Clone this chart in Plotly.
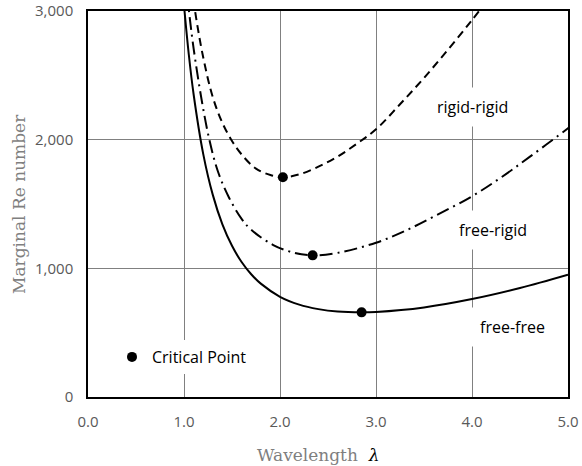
import plotly.graph_objects as go

# Marginal stability curves: wavelength vs. marginal Re number
lam_ff = [0.98, 1.0, 1.05, 1.1, 1.2, 1.3, 1.4, 1.5, 1.6, 1.7, 1.8, 2.0, 2.2, 2.4, 2.6, 2.85, 3.0, 3.5, 4.0, 4.5, 5.0]
re_ff = [3222, 3044, 2662, 2353, 1890, 1571, 1342, 1175, 1049, 954, 881, 779, 718, 683, 664, 658, 661, 696, 761, 847, 950]

lam_fr = [1.0, 1.05, 1.1, 1.184, 1.264, 1.35, 1.462, 1.6, 1.7, 1.93, 2.15, 2.34, 2.6, 3.0, 3.3, 3.632, 4.0, 4.3, 4.604, 5.0, 5.1]
re_fr = [3340, 3010, 2710, 2308, 2000, 1760, 1560, 1385, 1300, 1181, 1120, 1101, 1120, 1199, 1290, 1414, 1560, 1705, 1868, 2088, 2145]

lam_rr = [1.08, 1.115, 1.2, 1.3, 1.4, 1.5, 1.6, 1.75, 1.9, 2.03, 2.2, 2.4, 2.6, 2.8, 3.0, 3.25, 3.5, 3.75, 4.0, 4.2]
re_rr = [3190, 3000, 2640, 2330, 2130, 1990, 1885, 1775, 1725, 1708, 1730, 1790, 1868, 1968, 2080, 2275, 2480, 2700, 2930, 3120]

# Critical points (minimum of each curve)
crit_lam = [2.03, 2.34, 2.85]
crit_re = [1708, 1101, 658]

curve_labels = ["rigid-rigid", "free-rigid", "free-free"]
label_lam = [4.0, 4.22, 4.42]
label_re = [2254, 1298, 546]

x_ticks = [0, 1, 2, 3, 4, 5]
y_ticks = [0, 1000, 2000, 3000]

fig = go.Figure()
fig.add_trace(go.Scatter(x=lam_ff, y=re_ff, mode="lines", line=dict(color="black", width=2, shape="spline"),
                         showlegend=False, hoverinfo="skip"))
fig.add_trace(go.Scatter(x=lam_fr, y=re_fr, mode="lines",
                         line=dict(color="black", width=2, shape="spline", dash="13px,5px,2px,5px"),
                         showlegend=False, hoverinfo="skip"))
fig.add_trace(go.Scatter(x=lam_rr, y=re_rr, mode="lines",
                         line=dict(color="black", width=2, shape="spline", dash="8px,5px"),
                         showlegend=False, hoverinfo="skip"))
fig.add_trace(go.Scatter(x=crit_lam, y=crit_re, mode="markers", name="Critical Point",
                         marker=dict(color="black", size=10, symbol="circle")))

for txt, lx, ly in zip(curve_labels, label_lam, label_re):
    fig.add_annotation(x=lx, y=ly, xref="x", yref="y", text=txt, showarrow=False,
                       font=dict(family="Open Sans", size=16, color="black"),
                       bgcolor="white", borderpad=8)

title_font = dict(family="DejaVu Serif", size=17, color="#7f7f7f")
fig.add_annotation(x=-0.14375, y=0.5, xref="paper", yref="paper", text="Marginal Re number",
                   textangle=-90, showarrow=False, font=title_font, xanchor="center", yanchor="middle")
fig.add_annotation(x=0.481, y=-0.150, xref="paper", yref="paper",
                   text="Wavelength  <span style='color:black'><i>λ</i></span>",
                   showarrow=False, font=title_font, xanchor="center", yanchor="middle")

axis_common = dict(showgrid=True, gridcolor="#808080", gridwidth=1, zeroline=False,
                   showline=True, mirror=True, linecolor="black", linewidth=1.5, ticks="",
                   automargin=False,
                   tickfont=dict(family="Open Sans", size=15, color="#595959"))
fig.update_xaxes(range=[0, 5], tickvals=x_ticks, tickformat=".1f", ticklabelstandoff=10, **axis_common)
fig.update_yaxes(range=[0, 3000], tickvals=y_ticks, tickformat=",", ticklabelstandoff=10, **axis_common)

fig.update_layout(
    width=582, height=466,
    margin=dict(l=88, r=14, t=11, b=69),
    plot_bgcolor="white", paper_bgcolor="white",
    legend=dict(x=0.05, y=0.1036, xanchor="left", yanchor="middle", bgcolor="white",
                font=dict(family="Open Sans", size=16, color="black"), borderwidth=0),
)

fig.write_html("out.html")
